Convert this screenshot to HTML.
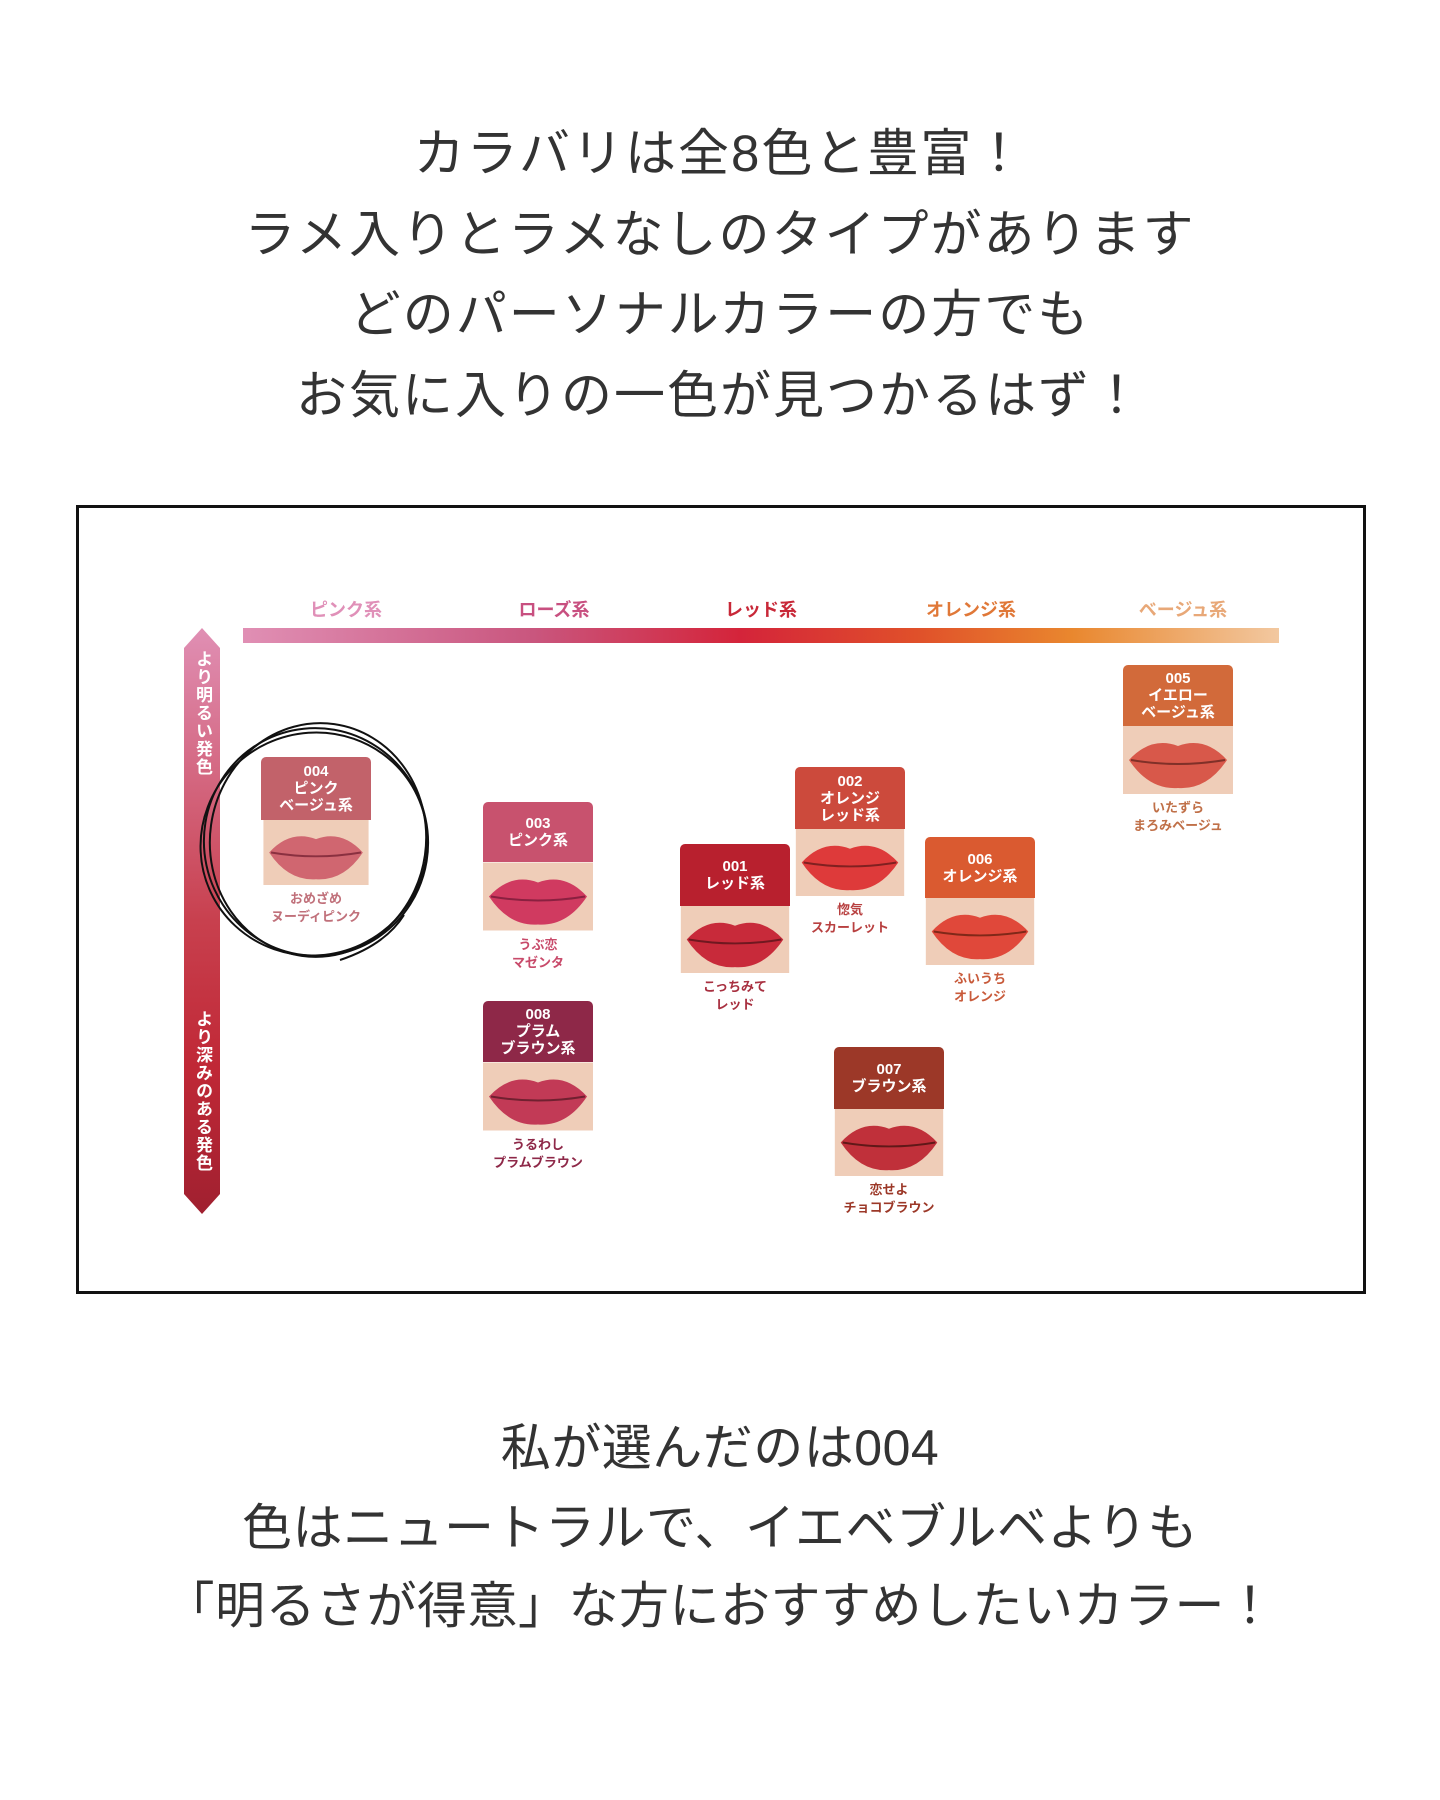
<!DOCTYPE html>
<html><head><meta charset="utf-8"><style>
body{margin:0;width:1440px;height:1800px;background:#fff;position:relative;overflow:hidden;font-family:"Liberation Sans","Noto Sans CJK JP",sans-serif}
.t{position:absolute;left:0;width:1440px;text-align:center;color:#333;font-size:51px;letter-spacing:2px;line-height:56px;white-space:nowrap}
.b{font-size:50px;letter-spacing:0.5px}
.box{position:absolute;left:76px;top:505px;width:1284px;height:783px;border:3px solid #111}
.a{position:absolute}
.cat{position:absolute;top:596px;font-size:18px;font-weight:bold;transform:translateX(-50%);white-space:nowrap}
.card{position:absolute;width:110px}
.lb{border-radius:5px 5px 0 0;color:#fff;font-weight:bold;font-size:15px;line-height:17px;text-align:center;display:flex;flex-direction:column;justify-content:center}
.card svg{display:block}
.nm{text-align:center;font-size:13px;font-weight:bold;line-height:18px;margin-top:5px;white-space:nowrap}
.vt{position:absolute;writing-mode:vertical-rl;color:#fff;font-size:17px;font-weight:bold;letter-spacing:1px}
</style></head><body>
<div class="t" style="top:126px">カラバリは全8色と豊富！</div>
<div class="t" style="top:207px">ラメ入りとラメなしのタイプがあります</div>
<div class="t" style="top:287px">どのパーソナルカラーの方でも</div>
<div class="t" style="top:368px">お気に入りの一色が見つかるはず！</div>

<div class="box"></div>
<div class="a" style="left:243px;top:628px;width:1036px;height:15px;background:linear-gradient(90deg,#e08fb4,#c9567e 28%,#d4243a 48%,#e0502a 65%,#e9872e 80%,#f2c8a0)"></div>
<div class="cat" style="left:346px;color:#e090b8">ピンク系</div>
<div class="cat" style="left:554px;color:#c85080">ローズ系</div>
<div class="cat" style="left:761px;color:#c82838">レッド系</div>
<div class="cat" style="left:971px;color:#e07838">オレンジ系</div>
<div class="cat" style="left:1183px;color:#e8a878">ベージュ系</div>

<svg class="a" style="left:182px;top:626px" width="40" height="590">
<defs><linearGradient id="vg" x1="0" y1="0" x2="0" y2="1"><stop offset="0" stop-color="#e08fb4"/><stop offset="0.5" stop-color="#c8404e"/><stop offset="0.75" stop-color="#c02836"/><stop offset="1" stop-color="#a02030"/></linearGradient></defs>
<path d="M20 2 L38 22 L38 568 L20 588 L2 568 L2 22 Z" fill="url(#vg)"/>
</svg>
<div class="vt" style="left:190px;top:650px">より明るい発色</div>
<div class="vt" style="left:190px;top:1010px">より深みのある発色</div>

<div class="card" style="left:261px;top:757px"><div class="lb" style="height:63px;background:#c2626a">004<br>ピンク<br>ベージュ系</div><svg width="110" height="65" viewBox="0 0 110 68"><rect width="110" height="68" fill="#efcdb8"/><path d="M6 34 Q28 10 55 20 Q82 10 104 34 Q84 64 55 62 Q26 64 6 34Z" fill="#d06670"/><path d="M8 34 Q55 42 102 34" stroke="#8a3040" stroke-width="2" fill="none"/></svg><div class="nm" style="color:#c0707a">おめざめ<br>ヌーディピンク</div></div>

<div class="card" style="left:483px;top:802px"><div class="lb" style="height:60px;background:#c8526e">003<br>ピンク系</div><svg width="110" height="69" viewBox="0 0 110 68"><rect width="110" height="68" fill="#efcdb8"/><path d="M6 34 Q28 10 55 20 Q82 10 104 34 Q84 64 55 62 Q26 64 6 34Z" fill="#d03a60"/><path d="M8 34 Q55 42 102 34" stroke="#8a2040" stroke-width="2" fill="none"/></svg><div class="nm" style="color:#c84a6a">うぶ恋<br>マゼンタ</div></div>

<div class="card" style="left:483px;top:1001px"><div class="lb" style="height:61px;background:#8e2848">008<br>プラム<br>ブラウン系</div><svg width="110" height="69" viewBox="0 0 110 68"><rect width="110" height="68" fill="#efcdb8"/><path d="M6 34 Q28 10 55 20 Q82 10 104 34 Q84 64 55 62 Q26 64 6 34Z" fill="#c23a56"/><path d="M8 34 Q55 42 102 34" stroke="#702030" stroke-width="2" fill="none"/></svg><div class="nm" style="color:#8e2848">うるわし<br>プラムブラウン</div></div>

<div class="card" style="left:680px;top:844px"><div class="lb" style="height:62px;background:#b8202e">001<br>レッド系</div><svg width="110" height="67" viewBox="0 0 110 68"><rect width="110" height="68" fill="#efcdb8"/><path d="M6 34 Q28 10 55 20 Q82 10 104 34 Q84 64 55 62 Q26 64 6 34Z" fill="#c82a3a"/><path d="M8 34 Q55 42 102 34" stroke="#701820" stroke-width="2" fill="none"/></svg><div class="nm" style="color:#a83040">こっちみて<br>レッド</div></div>

<div class="card" style="left:795px;top:767px"><div class="lb" style="height:62px;background:#cc4a3c">002<br>オレンジ<br>レッド系</div><svg width="110" height="67" viewBox="0 0 110 68"><rect width="110" height="68" fill="#efcdb8"/><path d="M6 34 Q28 10 55 20 Q82 10 104 34 Q84 64 55 62 Q26 64 6 34Z" fill="#de3a3a"/><path d="M8 34 Q55 42 102 34" stroke="#802020" stroke-width="2" fill="none"/></svg><div class="nm" style="color:#b84040">惚気<br>スカーレット</div></div>

<div class="card" style="left:925px;top:837px"><div class="lb" style="height:61px;background:#da5a30">006<br>オレンジ系</div><svg width="110" height="67" viewBox="0 0 110 68"><rect width="110" height="68" fill="#efcdb8"/><path d="M6 34 Q28 10 55 20 Q82 10 104 34 Q84 64 55 62 Q26 64 6 34Z" fill="#e0483a"/><path d="M8 34 Q55 42 102 34" stroke="#802818" stroke-width="2" fill="none"/></svg><div class="nm" style="color:#c85a3a">ふいうち<br>オレンジ</div></div>

<div class="card" style="left:834px;top:1047px"><div class="lb" style="height:62px;background:#9c3828">007<br>ブラウン系</div><svg width="110" height="67" viewBox="0 0 110 68"><rect width="110" height="68" fill="#efcdb8"/><path d="M6 34 Q28 10 55 20 Q82 10 104 34 Q84 64 55 62 Q26 64 6 34Z" fill="#c0303a"/><path d="M8 34 Q55 42 102 34" stroke="#601818" stroke-width="2" fill="none"/></svg><div class="nm" style="color:#9c3828">恋せよ<br>チョコブラウン</div></div>

<div class="card" style="left:1123px;top:665px"><div class="lb" style="height:61px;background:#d26a3a">005<br>イエロー<br>ベージュ系</div><svg width="110" height="68" viewBox="0 0 110 68"><rect width="110" height="68" fill="#efcdb8"/><path d="M6 34 Q28 10 55 20 Q82 10 104 34 Q84 64 55 62 Q26 64 6 34Z" fill="#d8584a"/><path d="M8 34 Q55 42 102 34" stroke="#803028" stroke-width="2" fill="none"/></svg><div class="nm" style="color:#c07048">いたずら<br>まろみベージュ</div></div>

<svg class="a" style="left:0;top:0" width="1440" height="1800" fill="none" stroke="#111" stroke-width="2">
<ellipse cx="316" cy="842" rx="112" ry="114" transform="rotate(-12 316 842)"/>
<ellipse cx="318" cy="840" rx="108" ry="117" transform="rotate(8 318 840)"/>
<ellipse cx="314" cy="844" rx="114" ry="111" transform="rotate(-25 314 844)"/>
<path d="M340 960 Q385 945 404 915"/>
</svg>

<div class="t b" style="top:1420px">私が選んだのは004</div>
<div class="t b" style="top:1500px">色はニュートラルで、イエベブルベよりも</div>
<div class="t b" style="top:1578px">「明るさが得意」な方におすすめしたいカラー！</div>
</body></html>
